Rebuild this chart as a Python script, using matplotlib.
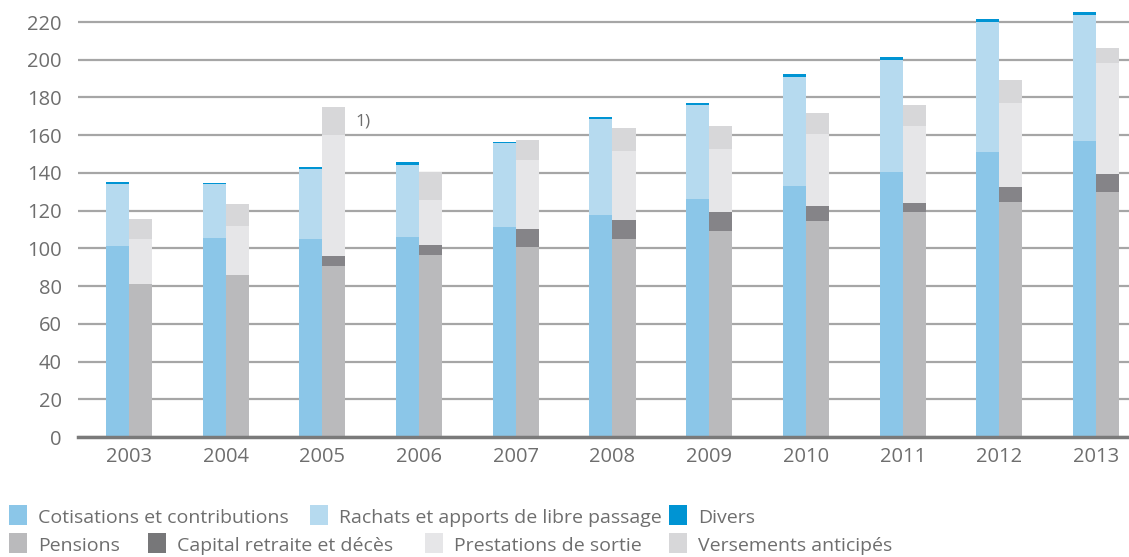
import numpy as np
import matplotlib
matplotlib.use("Agg")
import matplotlib.pyplot as plt
from matplotlib.patches import Rectangle

years = ['2003', '2004', '2005', '2006', '2007', '2008', '2009', '2010', '2011', '2012', '2013']

# entrees (barre de gauche)
cotisations = [101.3, 105.5, 105.0, 106.2, 111.3, 117.7, 126.2, 133.1, 140.5, 151.1, 156.9]
rachats = [33.0, 28.7, 37.0, 38.0, 44.6, 50.9, 49.8, 57.8, 59.4, 68.9, 66.9]
divers = [0.8, 0.5, 1.2, 1.6, 0.5, 1.1, 1.1, 1.6, 1.6, 1.6, 1.5]

# sorties (barre de droite)
pensions = [81.1, 85.9, 90.7, 96.5, 100.7, 105.0, 109.2, 114.5, 119.3, 124.6, 129.9]
capital = [0.0, 0.0, 5.3, 5.3, 9.6, 10.0, 10.1, 8.0, 4.8, 8.0, 9.5]
prestations = [24.0, 26.0, 64.0, 23.9, 36.6, 36.6, 33.4, 38.2, 40.8, 44.5, 58.9]
versements = [10.6, 11.6, 15.0, 14.8, 10.6, 12.2, 12.2, 11.1, 11.1, 12.2, 8.0]

c_cot = '#8bc6e8'
c_rach = '#b6daef'
c_div = '#0094d3'
c_pens = '#bababc'
c_cap = '#777779'
c_prest = '#e6e6e8'
c_vers = '#d7d7d9'
txt = '#6e6e6e'

plt.rcParams['font.family'] = ['Open Sans', 'DejaVu Sans']

W, H = 1129, 557
fig = plt.figure(figsize=(W / 100, H / 100), dpi=100)
ax = fig.add_axes([0.069, 0.2154, 0.931, 0.7654])

x = np.arange(len(years))
w = 0.238

b1 = np.array(cotisations)
b2 = b1 + np.array(rachats)
ax.bar(x - w/2, cotisations, w, color=c_cot, zorder=2)
ax.bar(x - w/2, rachats, w, bottom=b1, color=c_rach, zorder=2)
ax.bar(x - w/2, divers, w, bottom=b2, color=c_div, zorder=2)

s1 = np.array(pensions)
s2 = s1 + np.array(capital)
s3 = s2 + np.array(prestations)
ax.bar(x + w/2, pensions, w, color='#bababc', zorder=2)
ax.bar(x + w/2, capital, w, bottom=s1, color='#858488', zorder=2)
ax.bar(x + w/2, prestations, w, bottom=s2, color=c_prest, zorder=2)
ax.bar(x + w/2, versements, w, bottom=s3, color=c_vers, zorder=2)

ax.text(2.34, 167.5, '1)', color=txt, fontsize=12.5, va='center', ha='left')

ax.set_xlim(-0.527, 10.34)
ax.set_ylim(0, 226)
ax.set_yticks(range(0, 221, 20))
ax.set_xticks(x)
ax.set_xticklabels(years)
ax.tick_params(length=0, labelsize=14.5, labelcolor=txt)
ax.tick_params(axis='y', pad=11.5)
ax.tick_params(axis='x', pad=7)
ax.yaxis.grid(True, color='#a6a6a6', lw=1.6)
ax.set_axisbelow(True)
for s in ['top', 'right', 'left']:
    ax.spines[s].set_visible(False)
ax.spines['bottom'].set_color('#7a7a7a')
ax.spines['bottom'].set_linewidth(2.5)
ax.spines['bottom'].set_zorder(3)

# legende sur deux lignes (positions en pixels)
legend_rows = [
    (515, [(9, c_cot, 'Cotisations et contributions'),
           (310, c_rach, 'Rachats et apports de libre passage'),
           (669, c_div, 'Divers')]),
    (543, [(9, c_pens, 'Pensions'),
           (148, c_cap, 'Capital retraite et décès'),
           (425, c_prest, 'Prestations de sortie'),
           (669, c_vers, 'Versements anticipés')]),
]
for yc, items in legend_rows:
    for xp, col, lab in items:
        fig.add_artist(Rectangle((xp / W, 1 - (yc + 10) / H), 18 / W, 20 / H,
                                 transform=fig.transFigure, color=col, lw=0))
        fig.text((xp + 29) / W, 1 - (yc + 3) / H, lab, color=txt, fontsize=14,
                 va='center', ha='left')

fig.savefig('out.png', dpi=100)
